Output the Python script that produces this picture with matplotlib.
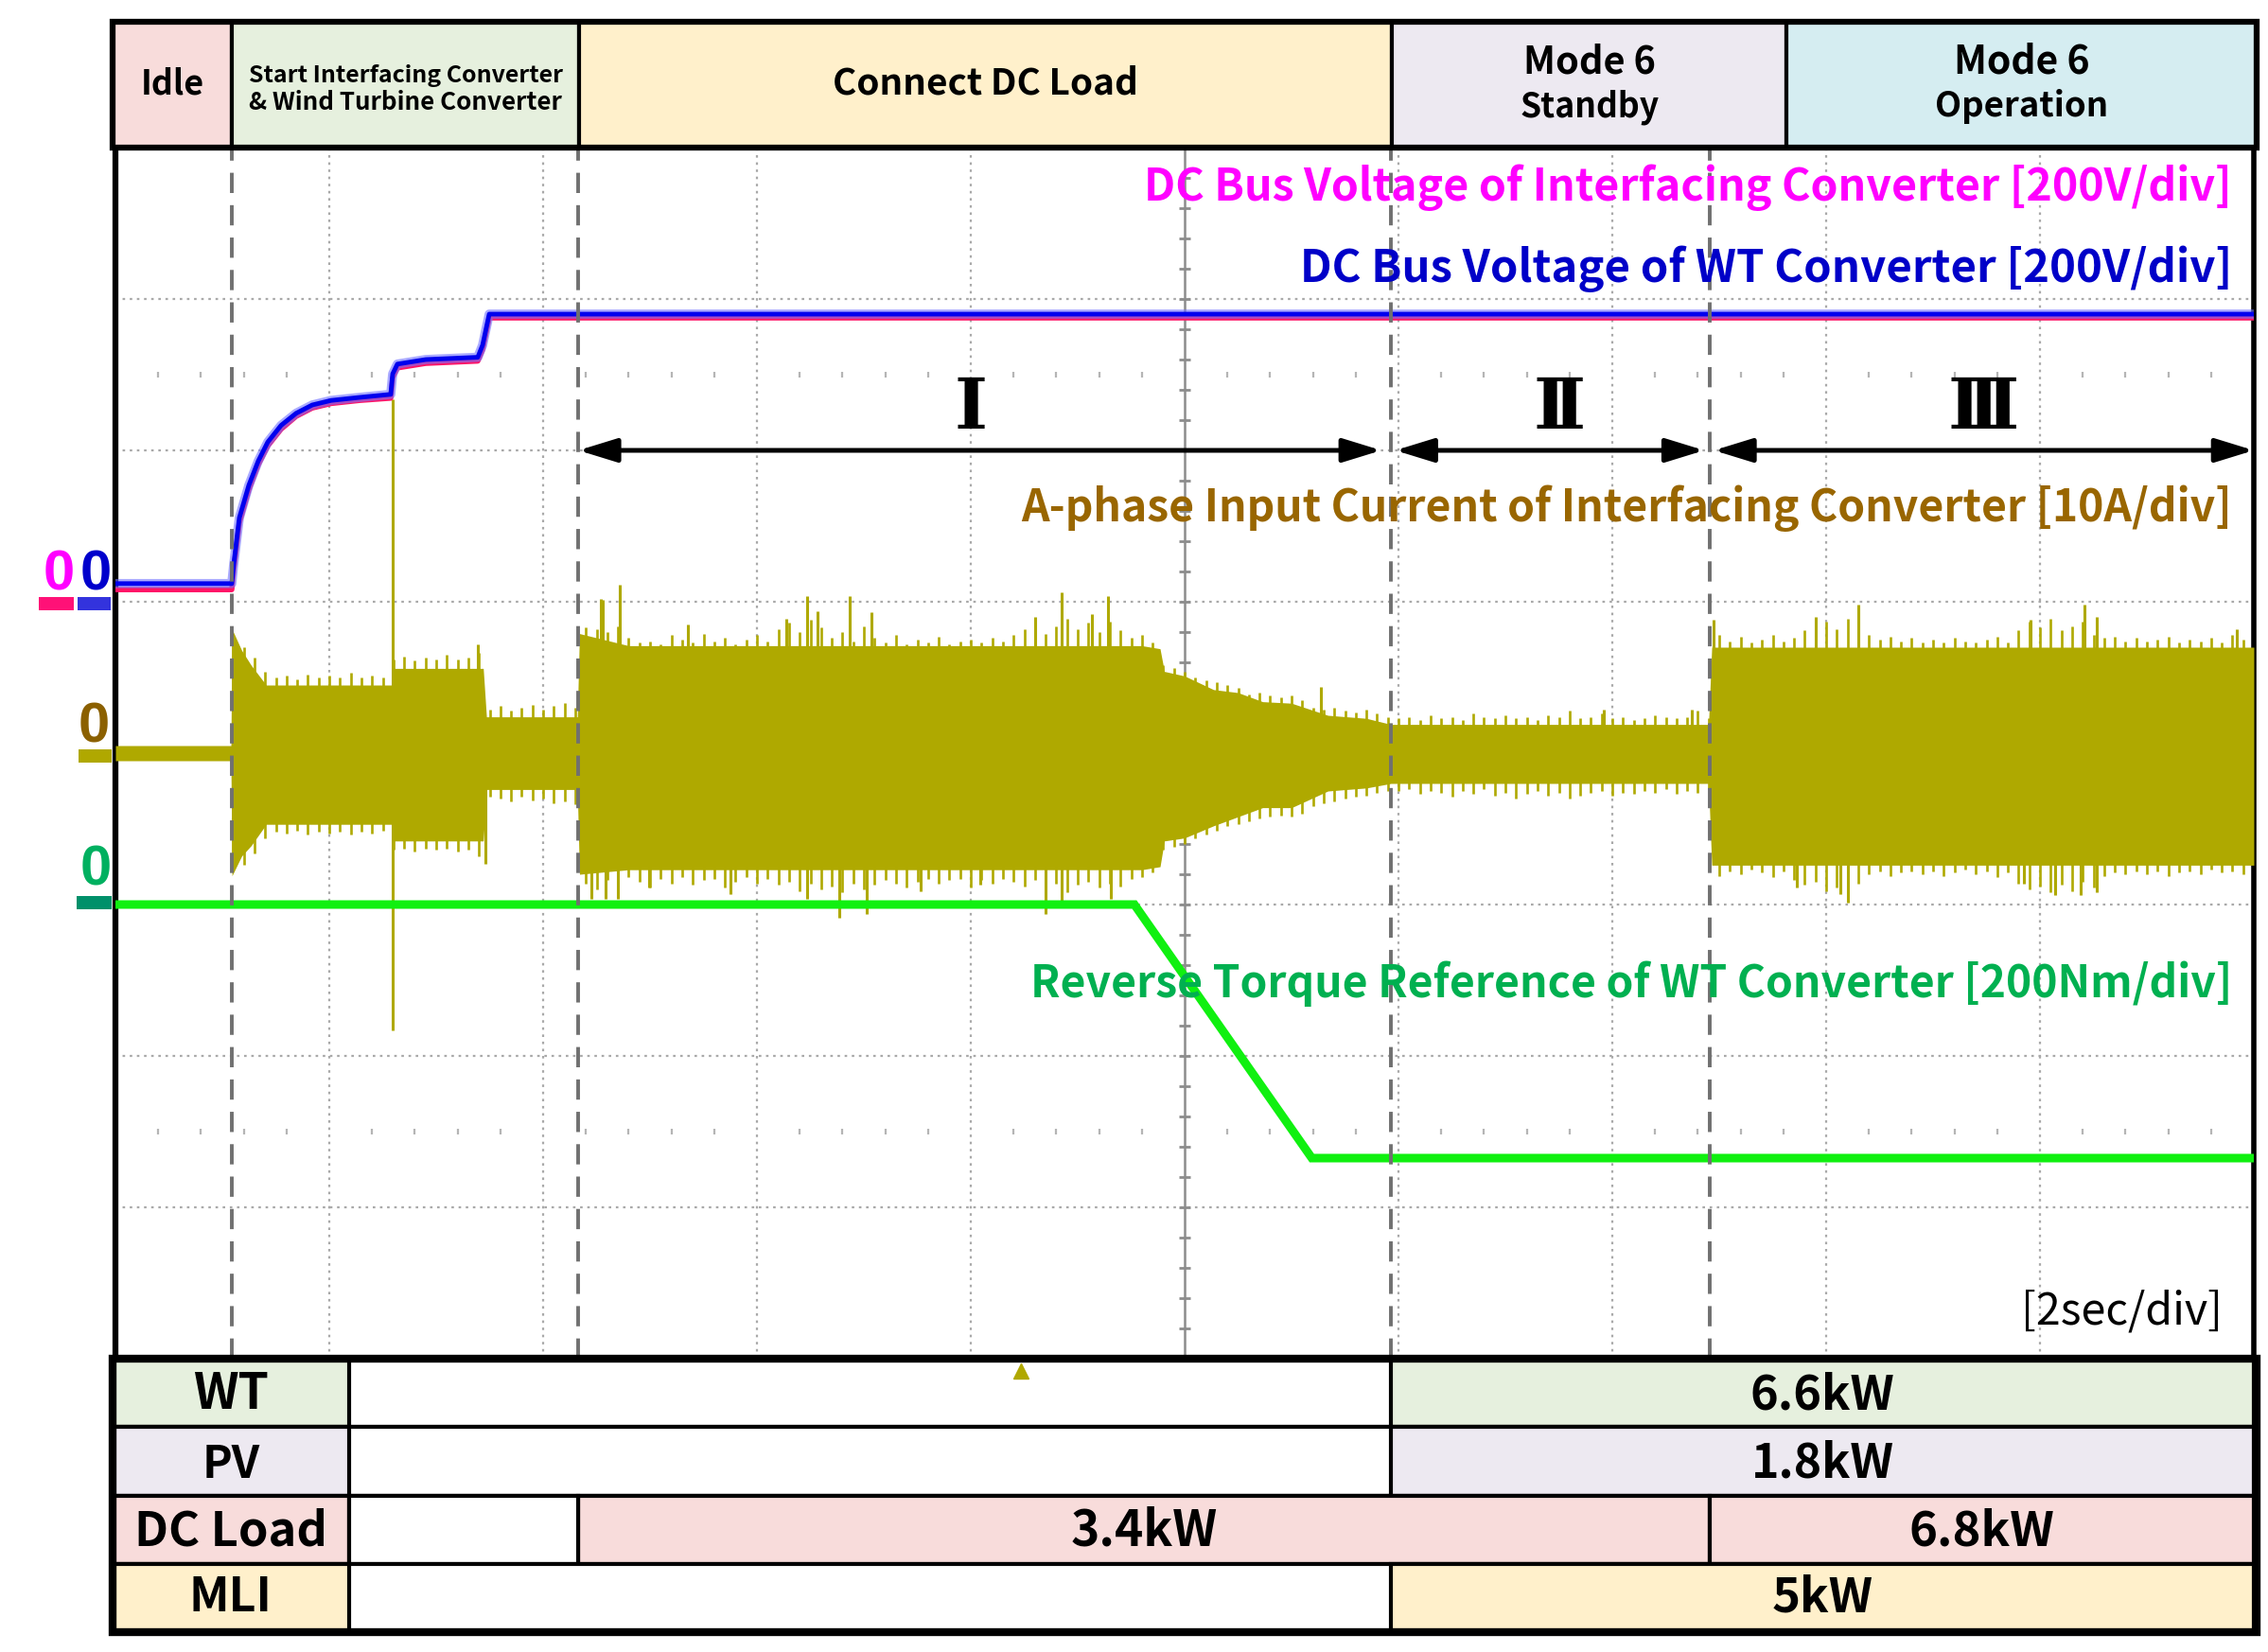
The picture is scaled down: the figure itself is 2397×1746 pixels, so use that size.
import numpy as np
import matplotlib
matplotlib.use("Agg")
import matplotlib.pyplot as plt
from matplotlib.patches import Rectangle, FancyArrowPatch, ArrowStyle
from matplotlib import font_manager
from matplotlib.ft2font import FT2Font

plt.rcParams['font.family'] = ['Noto Sans CJK KR', 'DejaVu Sans']

# ---------------- data ----------------
# DC bus voltages [V]  (200 V/div)
volt_t = [0.0, 1.088, 1.106, 1.159, 1.248, 1.336, 1.425, 1.549, 1.69, 1.841, 2.018,
          2.283, 2.575, 2.593, 2.637, 2.903, 3.389, 3.434, 3.496, 20.0]
volt_wt = [24, 24, 49, 111, 154, 186, 211, 233, 249, 260, 266,
           270, 274, 301, 314, 320, 323, 339, 380, 380]
volt_ic = [16, 16, 42, 104, 148, 181, 206, 228, 245, 256, 262,
           266, 269, 296, 309, 315, 318, 333, 375, 375]

# Reverse torque reference [Nm]  (200 Nm/div)
torque_t = [0.0, 9.53, 11.19, 20.0]
torque_nm = [0, 0, -335, -335]

# A-phase input current [A]  (10 A/div): solid core envelope
cur_t = [0.0, 1.08, 1.09, 1.18, 1.27, 1.41, 2.58, 2.6, 3.44, 3.47, 4.32, 4.34, 4.8, 9.6,
         9.77, 9.81, 10.0, 10.27, 10.5, 10.73, 11.0, 11.34, 11.7, 11.93, 14.9, 14.93, 20.0]
cur_pos = [0.5, 0.5, 8.2, 6.8, 5.8, 4.5, 4.5, 5.6, 5.6, 2.4, 2.4, 7.9, 7.1, 7.1,
           6.9, 5.4, 5.1, 4.2, 4.0, 3.4, 3.3, 2.5, 2.3, 1.9, 1.9, 7.0, 7.0]
cur_neg = [0.5, 0.5, 8.1, 6.8, 6.1, 4.7, 4.7, 5.8, 5.8, 2.4, 2.4, 8.0, 7.7, 7.7,
           7.5, 5.8, 5.6, 4.8, 4.2, 3.6, 3.6, 2.5, 2.3, 2.0, 2.0, 7.4, 7.4]
# ragged fringe of the current trace, every 0.1 s from 1.1 s to 19.9 s [A]
fringe_pos = [7.6, 7.0, 6.3, 5.4, 5.0, 5.1, 4.9, 5.2, 5.0,
              5.1, 5.0, 5.3, 5.0, 5.1, 5.0,
              6.2, 6.4, 6.1, 6.3, 6.2, 6.5, 6.2, 6.3, 6.6,
              2.9, 3.1, 2.8, 3.0, 3.2, 2.9, 3.1, 3.3, 3.0,
              8.3, 8.2, 8.0, 8.4, 7.6, 7.3,
              7.4, 7.2, 7.8, 7.5, 7.3, 7.9, 7.4, 7.6, 7.2, 7.5,
              7.8, 7.4, 8.2, 8.6, 8.0, 8.8, 8.3, 7.6, 8.0, 7.4,
              8.4, 7.6, 7.3, 7.8, 7.2, 7.5, 7.3, 7.7, 7.2, 7.4,
              7.5, 7.3, 7.6, 7.4, 7.8, 8.2, 8.6, 7.9, 8.4, 8.9,
              8.2, 8.6, 8.0, 8.7, 8.1, 7.6, 7.8, 7.3,
              5.8, 5.6, 5.4, 5.0, 4.8, 4.7, 4.5, 4.3, 3.9, 4.0, 3.8,
              3.7, 3.8, 3.5, 3.0, 2.9, 3.0, 2.8, 2.7, 2.9, 2.6, 2.4,
              2.3, 2.4, 2.2, 2.5, 2.3, 2.4, 2.2, 2.6, 2.4, 2.3,
              2.5, 2.3, 2.4, 2.2, 2.5, 2.4, 2.8, 2.3, 2.4, 2.6,
              2.3, 2.4, 2.2, 2.3, 2.5, 2.4, 2.3, 2.4, 2.8,
              2.3,
              7.8, 7.4, 7.7, 7.3, 7.5, 7.8, 7.4, 7.6, 8.1, 8.5,
              8.7, 8.2, 8.9, 8.1, 7.8, 7.5, 7.7, 7.4, 7.6, 7.3,
              7.5, 7.3, 7.6, 7.4, 7.3, 7.5, 7.7, 7.3, 8.1, 8.7,
              8.3, 8.9, 8.1, 8.4, 8.7, 7.8, 7.6, 7.7, 7.4, 7.6,
              7.4, 7.5, 7.7, 7.3, 7.5, 7.4, 7.6, 7.3, 7.8, 7.5]
fringe_neg = [7.8, 7.4, 6.6, 5.6, 5.2, 5.3, 5.1, 5.4, 5.2,
              5.3, 5.2, 5.4, 5.2, 5.3, 5.1,
              6.4, 6.3, 6.5, 6.3, 6.4, 6.3, 6.5, 6.4, 6.8,
              2.9, 3.0, 3.2, 2.9, 3.1, 3.0, 3.3, 3.2, 3.4,
              8.6, 9.0, 8.4, 8.8, 8.2, 8.5,
              8.9, 8.3, 8.6, 8.2, 8.7, 8.4, 8.3, 8.9, 8.5, 8.2,
              8.6, 8.3, 8.7, 8.5, 9.1, 8.6, 9.0, 8.8, 9.2, 8.6,
              9.0, 8.7, 8.4, 8.6, 8.9, 8.5, 8.3, 8.6, 8.4, 8.3,
              8.9, 8.4, 8.6, 8.3, 8.5, 8.8, 8.4, 9.1, 8.6, 9.2,
              8.7, 8.5, 8.9, 8.6, 8.8, 8.3, 8.2, 7.9,
              6.4, 6.2, 6.0, 5.6, 5.4, 5.1, 4.8, 4.7, 4.5, 4.3, 4.2,
              4.1, 4.2, 4.0, 3.5, 3.3, 3.2, 3.0, 2.9, 2.8, 2.6, 2.5,
              2.5, 2.4, 2.7, 2.5, 2.6, 2.9, 2.5, 2.7, 2.4, 2.8,
              2.6, 3.0, 2.7, 2.5, 2.8, 2.6, 3.0, 2.8, 2.6, 2.5,
              2.8, 2.6, 2.7, 2.5, 2.6, 2.4, 2.7, 2.5, 2.6,
              2.4,
              8.1, 7.8, 8.0, 7.7, 7.9, 8.2, 7.8, 8.4, 8.7, 8.5,
              9.1, 8.9, 8.4, 8.6, 8.0, 7.8, 8.1, 7.9, 7.8, 8.0,
              7.8, 8.1, 7.9, 7.7, 8.0, 7.8, 8.2, 7.9, 8.6, 9.0,
              8.8, 9.2, 8.7, 9.1, 8.5, 8.9, 8.1, 7.9, 8.0, 7.8,
              8.0, 7.8, 8.1, 7.9, 7.8, 8.0, 7.7, 7.9, 7.8, 8.0]
# isolated current spikes [s], [A]
spike_t = [2.59, 2.59, 3.39, 3.46, 4.45, 4.54, 4.56, 4.58, 4.70, 4.72, 4.99, 5.35, 5.75,
           6.27, 6.47, 6.47, 6.57, 6.77, 6.87, 7.03, 7.07, 7.53, 8.09, 8.6, 8.7, 8.85,
           8.85, 9.13, 9.28, 9.31, 11.27, 13.92, 14.74, 14.95, 15.73, 15.9, 16.13, 16.2,
           16.3, 17.85, 17.91, 18.14, 18.38, 18.42, 18.53, 18.53, 19.84]
spike_a = [23.4, -18.3, 7.2, -7.3, -9.6, 10.2, 10.1, -9.6, -9.6, 11.1, -8.9, 8.5, -9.3,
           8.9, 10.4, -9.6, 9.4, -10.9, 10.4, -10.6, 9.3, -9.1, -8.7, 9.0, -10.6, 10.6,
           -9.8, 9.2, 10.4, -9.6, 4.4, 2.9, 2.9, 8.8, -8.9, 9.0, -9.3, -9.9,
           9.8, -8.6, 8.8, -9.4, -9.4, 9.8, 9.0, -9.2, 8.2]

phase_marks = [1.085, 4.33, 11.93, 14.91]
header_labels = ['Idle', 'Start Interfacing Converter\n& Wind Turbine Converter',
                 'Connect DC Load', 'Mode 6\nStandby', 'Mode 6\nOperation']
header_edges = [1.09, 4.34, 11.94, 15.63]
header_colors = ['#F8DCDB', '#E6F0DE', '#FFF0CB', '#EDE9F1', '#D5EDF1']
interval_labels = ['Ⅰ', 'Ⅱ', 'Ⅲ']
interval_spans = [(4.33, 11.84), (11.97, 14.86), (14.95, 20.0)]
table_rows = ['WT', 'PV', 'DC Load', 'MLI']
table_row_colors = ['#E6F0DE', '#EDE9F1', '#F8DCDB', '#FFF0CB']
table_segments = [[(11.93, 20.0, '6.6kW')],
                  [(11.93, 20.0, '1.8kW')],
                  [(4.33, 14.91, '3.4kW'), (14.91, 20.0, '6.8kW')],
                  [(11.93, 20.0, '5kW')]]

# ---------------- layout helpers ----------------
W, H, DPI = 2397, 1746, 100
fig = plt.figure(figsize=(W / DPI, H / DPI), dpi=DPI)
fig.patch.set_facecolor('white')
X0, X1 = 122, 2382          # plot area in px
Y0, Y1 = 156, 1436
PXS = (X1 - X0) / 20.0      # px per second


def fx(px):
    return px / W


def fy(py):
    return 1 - py / H


def t_of(px):
    return (px - X0) / PXS


def px_of(t):
    return X0 + t * PXS


renderer = fig.canvas.get_renderer()


def ftext(x, y, s, width=None, ha='center', size=30, **kw):
    txt = fig.text(fx(x), fy(y), s, ha=ha, va='baseline', fontsize=size, **kw)
    if width is not None:
        bb = txt.get_window_extent(renderer)
        txt.set_fontsize(size * width / bb.width)
    return txt


def has_glyph(family, ch):
    try:
        path = font_manager.findfont(font_manager.FontProperties(family=family, weight='bold'),
                                     fallback_to_default=False)
        return ord(ch) in FT2Font(path).get_charmap()
    except Exception:
        return False


# ---------------- main scope axes ----------------
ax = fig.add_axes([fx(X0), fy(Y1), (X1 - X0) / W, (Y1 - Y0) / H])
ax.set_xlim(0, 20)
ax.set_ylim(0, 8)
ax.set_xticks([])
ax.set_yticks([])
for s in ['top', 'bottom']:
    ax.spines[s].set_visible(False)
ax.spines['left'].set_linewidth(4.5)
ax.spines['right'].set_linewidth(4.0)

V_DIV, I_DIV, T_DIV = 200.0, 10.0, 200.0
V_GND, I_GND, T_GND = 5.0, 4.0, 3.0

grid_c = '#a9a9a9'
for tg in range(2, 20, 2):
    if tg == 10:
        continue
    ax.axvline(tg, color=grid_c, lw=1.6, ls=(0, (1.2, 2.2)), zorder=1)
for yg in range(1, 8):
    if yg == 4:
        continue
    ax.axhline(yg, color=grid_c, lw=1.6, ls=(0, (1.2, 2.2)), zorder=1)
ax.axvline(10, color='#8c8c8c', lw=1.8, zorder=1)
ax.axhline(4, color='#8c8c8c', lw=1.8, zorder=1)
yt = np.arange(0.2, 8.0, 0.2)
ax.hlines(yt, 10 - 0.055, 10 + 0.055, color='#8c8c8c', lw=2.0, zorder=1)
xt = np.arange(0.4, 20.0, 0.4)
ax.vlines(xt, 4 - 0.035, 4 + 0.035, color='#8c8c8c', lw=2.0, zorder=1)
xm = [v for v in xt if abs(v / 2 - round(v / 2)) > 1e-6]
for yr in (1.5, 6.5):
    ax.vlines(xm, yr - 0.02, yr + 0.02, color='#b5b5b5', lw=1.6, zorder=1)

# current
olive = '#AFA900'
cp = I_GND + np.array(cur_pos) / I_DIV
cn = I_GND - np.array(cur_neg) / I_DIV
ax.fill_between(cur_t, cn, cp, color=olive, lw=0, zorder=3)
fringe_t = np.arange(11, 200) / 10.0
ax.vlines(fringe_t, I_GND - np.array(fringe_neg) / I_DIV, I_GND + np.array(fringe_pos) / I_DIV,
          color=olive, lw=1.9, zorder=3)
ax.vlines(spike_t, I_GND, I_GND + np.array(spike_a) / I_DIV, color=olive, lw=2.2, zorder=3)

# voltages
ax.plot(volt_t, V_GND + np.array(volt_ic) / V_DIV, color='#FF1466', lw=4, zorder=4,
        solid_joinstyle='round')
ax.plot(volt_t, V_GND + np.array(volt_wt) / V_DIV, color='#7070FF', lw=7, zorder=5, alpha=0.6,
        solid_joinstyle='round')
ax.plot(volt_t, V_GND + np.array(volt_wt) / V_DIV, color='#0000EE', lw=3.5, zorder=6,
        solid_joinstyle='round')

# torque
ax.plot(torque_t, T_GND + np.array(torque_nm) / T_DIV, color='#10F010', lw=6.5, zorder=6,
        solid_joinstyle='miter')

# dashed phase markers
for tm in phase_marks:
    ax.axvline(tm, color='#707070', lw=2.8, ls=(0, (5.5, 3.3)), zorder=7)

# interval arrows
arrow_style = ArrowStyle('<|-|>', head_length=2.6, head_width=0.8)
for (a, b), lab in zip(interval_spans, interval_labels):
    arr = FancyArrowPatch((a, 6.0), (b, 6.0), arrowstyle=arrow_style, mutation_scale=9.5,
                          color='black', lw=3.6, zorder=8, shrinkA=0, shrinkB=0, clip_on=False)
    ax.add_patch(arr)

# ---------------- header ----------------
axh = fig.add_axes([fx(119), fy(156), (2385 - 119) / W, (156 - 23) / H])
hx0, hx1 = t_of(119), t_of(2385)
axh.set_xlim(hx0, hx1)
axh.set_ylim(0, 1)
axh.axis('off')
hedges = [hx0] + header_edges + [hx1]
for i in range(5):
    axh.add_patch(Rectangle((hedges[i], 0), hedges[i + 1] - hedges[i], 1,
                            fc=header_colors[i], ec='black', lw=3.0, clip_on=False))
axh.add_patch(Rectangle((hx0, 0), hx1 - hx0, 1, fc='none', ec='black', lw=4.5, clip_on=False))

hc = [(px_of(hedges[i]) + px_of(hedges[i + 1])) / 2 for i in range(5)]
ftext(hc[0], 100, header_labels[0], width=67, fontweight='bold')
l1, l2 = header_labels[1].split('\n')
ftext(hc[1], 87, l1, width=331, fontweight='bold')
ftext(hc[1], 116, l2, width=331, fontweight='bold')
ftext(hc[2], 100, header_labels[2], width=323, fontweight='bold')
a1, a2 = header_labels[3].split('\n')
ftext(hc[3], 77, a1, width=140, fontweight='bold')
ftext(hc[3], 123, a2, width=147, fontweight='bold')
b1, b2 = header_labels[4].split('\n')
ftext(hc[4], 77, b1, width=144, fontweight='bold')
ftext(hc[4], 123, b2, width=183, fontweight='bold')

# ---------------- table ----------------
axt = fig.add_axes([fx(119), fy(1725), (2385 - 119) / W, (1725 - 1436) / H])
axt.set_xlim(hx0, hx1)
axt.set_ylim(0, 4)
axt.axis('off')
lab_end = t_of(369)
row_base = [1489, 1562, 1633, 1703]
lab_w = [80, 61, 204, 88]
val_w = {'6.6kW': 153, '1.8kW': 151, '3.4kW': 155, '6.8kW': 154, '5kW': 107}
for r, name in enumerate(table_rows):
    y = 3 - r
    axt.add_patch(Rectangle((hx0, y), hx1 - hx0, 1, fc='white', ec='black', lw=3.0, clip_on=False))
    axt.add_patch(Rectangle((hx0, y), lab_end - hx0, 1, fc=table_row_colors[r], ec='black',
                            lw=3.0, clip_on=False))
    ftext((px_of(hx0) + px_of(lab_end)) / 2, row_base[r], name, width=lab_w[r], fontweight='bold')
    for (a, b, lab) in table_segments[r]:
        axt.add_patch(Rectangle((a, y), min(b, hx1) - a, 1, fc=table_row_colors[r], ec='black',
                                lw=3.0, clip_on=False))
        ftext((px_of(a) + px_of(min(b, hx1))) / 2, row_base[r], lab, width=val_w[lab],
              fontweight='bold')
    if r == 2:
        axt.add_patch(Rectangle((lab_end, y), table_segments[r][0][0] - lab_end, 1, fc='white',
                                ec='black', lw=3.0, clip_on=False))
axt.add_patch(Rectangle((hx0, 0), hx1 - hx0, 4, fc='none', ec='black', lw=6.0, clip_on=False))
axt.plot([8.47], [3.82], marker='^', color='#B0A800', ms=11, zorder=5, clip_on=False)

# ---------------- channel labels ----------------
ftext(2359, 212, 'DC Bus Voltage of Interfacing Converter [200V/div]', width=1151, ha='right',
      color='#FF00FF', fontweight='bold')
ftext(2359, 298, 'DC Bus Voltage of WT Converter [200V/div]', width=985, ha='right',
      color='#0000C8', fontweight='bold')
ftext(2359, 551, 'A-phase Input Current of Interfacing Converter [10A/div]', width=1279,
      ha='right', color='#996600', fontweight='bold')
ftext(2359, 1054, 'Reverse Torque Reference of WT Converter [200Nm/div]', width=1270,
      ha='right', color='#00B050', fontweight='bold')
ftext(2349, 1400, '[2sec/div]', width=213, ha='right', color='black')

# roman numerals (serif glyphs)
num_x = [1026, 1648, 2096]
serif_fams = [f for f in ('DejaVu Serif', 'Liberation Serif') if has_glyph(f, 'Ⅲ')]
if serif_fams:
    for lab, xc in zip(interval_labels, num_x):
        ftext(xc, 453, lab, size=54, fontweight='bold', color='black',
              family=[serif_fams[0], 'DejaVu Sans'])
else:
    for lab, xc in zip(['I', 'II', 'III'], num_x):
        ftext(xc, 453, lab, size=60, fontweight='bold', color='black',
              family=['Liberation Serif', 'DejaVu Serif'])

# ground markers
zf = ['Liberation Sans', 'DejaVu Sans']
ftext(62, 624, '0', size=43, color='#FF00FF', fontweight='bold', family=zf)
ftext(101, 624, '0', size=43, color='#0000CC', fontweight='bold', family=zf)
ftext(99, 785, '0', size=43, color='#8B6000', fontweight='bold', family=zf)
ftext(101, 936, '0', size=43, color='#00B060', fontweight='bold', family=zf)
for (x0, x1, y0, y1, c) in [(41, 78, 631, 645, '#FF1177'), (82, 117, 631, 645, '#3333DD'),
                            (83, 118, 792, 806, '#B0A800'), (81, 118, 947, 961, '#00906A')]:
    fig.patches.append(Rectangle((fx(x0), fy(y1)), (x1 - x0) / W, (y1 - y0) / H,
                                 transform=fig.transFigure, fc=c, ec='none'))

fig.savefig('out.png', dpi=DPI)
